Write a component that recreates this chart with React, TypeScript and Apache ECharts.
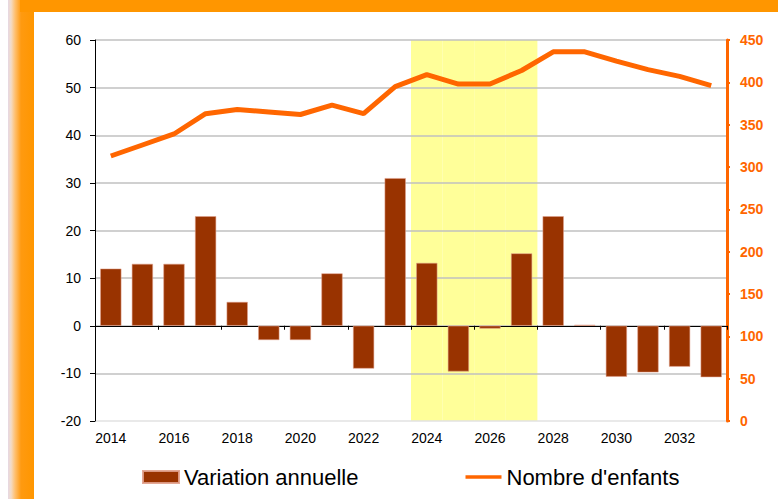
import React, { useEffect, useRef } from 'react';
import * as echarts from 'echarts';

const years = ['2014', '2015', '2016', '2017', '2018', '2019', '2020', '2021', '2022', '2023', '2024', '2025', '2026', '2027', '2028', '2029', '2030', '2031', '2032', '2033'];
const variationAnnuelle = [12, 13, 13, 23, 5, -3, -3, 11, -9, 31, 13.2, -9.6, -0.6, 15.2, 23, 0.2, -10.7, -9.8, -8.6, -10.8];
const nombreEnfants = [313, 326, 339, 363, 368, 365, 362, 373, 363, 395, 409, 398, 398, 414, 436, 436, 425, 415, 407, 396];
const highlightedYears = ['2024', '2025', '2026', '2027'];
const leftAxis = { min: -20, max: 60, step: 10 };
const rightAxis = { min: 0, max: 450, step: 50 };
const seriesNames = ['Variation annuelle', "Nombre d'enfants"];

const FONT = '"Liberation Sans", Arial, sans-serif';

export default function App() {
  const ref = useRef<HTMLDivElement>(null);

  useEffect(() => {
    document.body.style.margin = '0';
    if (!ref.current) return;
    const chart = echarts.init(ref.current, undefined, { renderer: 'svg' });
    const splitCount = (leftAxis.max - leftAxis.min) / leftAxis.step + 1;
    const splitColors = Array.from({ length: splitCount }, (_, i) => (i === 0 ? '#e2e2e2' : '#c0c0c0'));
    chart.setOption({
      animation: false,
      textStyle: { fontFamily: FONT },
      grid: { left: 61, right: 51, top: 28, bottom: 78, containLabel: false },
      legend: {
        data: [
          { name: seriesNames[0], icon: 'rect' },
          { name: seriesNames[1], icon: 'path://M0,0 L40,0 L40,4 L0,4 Z', itemStyle: { color: '#FF6600' } },
        ],
        left: 103,
        top: 449,
        itemWidth: 36,
        itemHeight: 12,
        itemGap: 107,
        textStyle: { fontSize: 22, color: '#000', fontFamily: FONT },
      },
      xAxis: [
        {
          type: 'category',
          data: years,
          position: 'bottom',
          axisLine: { show: false, onZero: false },
          axisTick: { show: false },
          axisLabel: { interval: 1, fontSize: 14, color: '#000', margin: 10, fontFamily: FONT },
          splitLine: { show: false },
        },
        {
          type: 'category',
          data: years,
          position: 'bottom',
          axisLine: { show: true, onZero: true, onZeroAxisIndex: 0, lineStyle: { color: '#000', width: 1.2 } },
          axisTick: { show: true, length: 4, lineStyle: { color: '#000' } },
          axisLabel: { show: false },
          splitLine: { show: false },
        },
        {
          type: 'category',
          data: years,
          show: false,
        },
      ],
      yAxis: [
        {
          type: 'value',
          min: leftAxis.min,
          max: leftAxis.max,
          interval: leftAxis.step,
          position: 'left',
          axisLine: { show: true, lineStyle: { color: '#000', width: 1 } },
          axisTick: { show: true, length: 5, lineStyle: { color: '#000' } },
          axisLabel: { fontSize: 14, color: '#000', margin: 14, fontFamily: FONT },
          splitLine: { show: true, lineStyle: { color: splitColors, width: 1.5 } },
        },
        {
          type: 'value',
          min: rightAxis.min,
          max: rightAxis.max,
          interval: rightAxis.step,
          position: 'right',
          axisLine: { show: true, lineStyle: { color: '#FF6600', width: 3 } },
          axisTick: { show: true, length: 3, lineStyle: { color: '#FF6600', width: 2 } },
          axisLabel: { fontSize: 14, color: '#FF6600', fontWeight: 'bold', margin: 13, fontFamily: FONT },
          splitLine: { show: false },
        },
        {
          type: 'value',
          min: 0,
          max: 1,
          show: false,
        },
      ],
      series: [
        {
          type: 'bar',
          name: 'highlight',
          xAxisIndex: 2,
          yAxisIndex: 2,
          data: years.map((y) => (highlightedYears.includes(y) ? 1 : '-')),
          barWidth: '100%',
          itemStyle: { color: '#FFFF99' },
          silent: true,
          z: -1,
        },
        {
          type: 'bar',
          name: seriesNames[0],
          xAxisIndex: 0,
          yAxisIndex: 0,
          data: variationAnnuelle,
          barWidth: '67%',
          itemStyle: { color: '#993300', borderColor: 'rgba(225,160,140,0.9)', borderWidth: 0.6 },
          z: 2,
        },
        {
          type: 'line',
          name: seriesNames[1],
          xAxisIndex: 0,
          yAxisIndex: 1,
          data: nombreEnfants,
          symbol: 'none',
          showSymbol: false,
          lineStyle: { color: '#FF6600', width: 5 },
          itemStyle: { color: '#FF6600' },
          z: 4,
        },
      ],
    });
    return () => chart.dispose();
  }, []);

  return (
    <div style={{ position: 'relative', width: 778, height: 499, background: '#fff', overflow: 'hidden' }}>
      <div
        style={{
          position: 'absolute',
          left: 8,
          top: 0,
          width: 26,
          height: 499,
          background: 'linear-gradient(to right, #e6d8e4 0px, #f3dcc8 3px, #ffc070 7px, #ff9a10 13px, #ff9600 26px)',
        }}
      />
      <div style={{ position: 'absolute', left: 20, top: 0, width: 758, height: 12, background: '#ff9600' }} />
      <div ref={ref} style={{ position: 'absolute', left: 34, top: 12, width: 744, height: 487 }} />
    </div>
  );
}
